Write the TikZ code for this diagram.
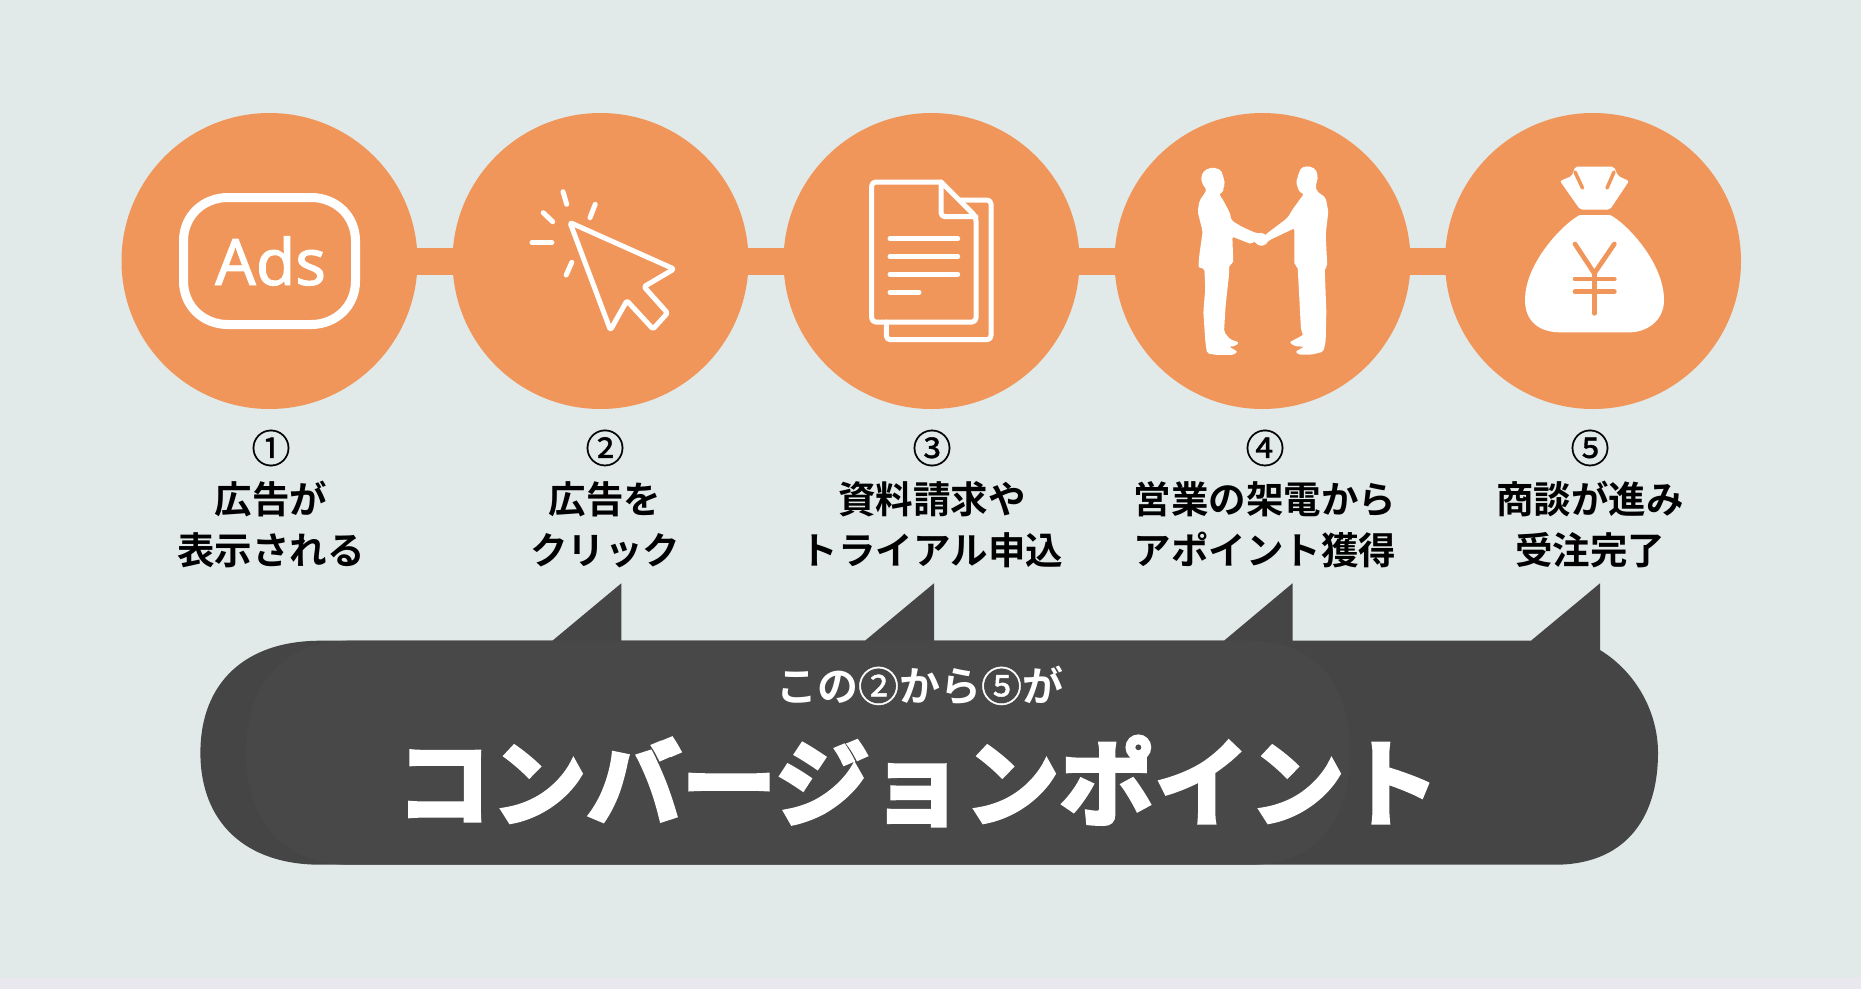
\documentclass[tikz,border=0pt]{standalone}
\usepackage{fontspec}
\newfontfamily\jpfont{Noto Sans CJK JP Bold}
\newfontfamily\subfont[FakeBold=1]{Noto Sans CJK JP}
\newfontfamily\titlefont[FakeBold=4]{Noto Sans CJK JP Bold}
\newfontfamily\adsfont[FakeBold=1.5]{Noto Sans}
\newcommand{\circnum}[1]{{\subfont\fontsize{39}{39}\selectfont #1}}
\definecolor{bgcol}{HTML}{E1EAE8}
\definecolor{stripcol}{HTML}{E8E8EE}
\definecolor{discol}{HTML}{F1965B}
\definecolor{darkcol}{HTML}{454545}
\definecolor{innercol}{HTML}{484848}
\begin{document}
\begin{tikzpicture}[x=1pt,y=-1pt,
disc/.style={circle,fill=discol,minimum size=296pt,inner sep=0pt},
bar/.style={draw=discol,line width=27pt,shorten >=-2pt,shorten <=-2pt},
iconline/.style={draw=white,line width=5pt,line cap=round,line join=round},
yenline/.style={draw=discol,line width=4.7pt,line cap=round,line join=round},
steptext/.style={font=\jpfont\fontsize{37.5}{51}\selectfont,align=center,text=black}]
\useasboundingbox (0,0) rectangle (1861,989);
\fill[bgcol] (0,0) rectangle (1861,989);
\fill[stripcol] (0,978) rectangle (1861,989);
\foreach \i/\x in {1/269.5,2/600.5,3/931.5,4/1262.5,5/1593} \draw (\x,261) node[disc](c\i){};
\foreach \i/\j in {1/2,2/3,3/4,4/5} \draw[bar] (c\i) -- (c\j);
\draw[draw=white,line width=9pt] (183.5,241) .. controls (183.5,216) and (203,197.5) .. (228,197.5) -- (311,197.5) .. controls (336,197.5) and (355.5,216) .. (355.5,241) -- (355.5,281) .. controls (355.5,306) and (336,324.5) .. (311,324.5) -- (228,324.5) .. controls (203,324.5) and (183.5,306) .. (183.5,281) -- cycle;
\draw (270.5,261) node[text=white,font=\adsfont\fontsize{64}{64}\selectfont](ads){Ads};
\draw[iconline,rounded corners=1.5pt] (570,222.5) -- (674,269) -- (644,286.7) -- (667.5,313) -- (653,329) -- (626.9,300.7) -- (610.4,330) -- cycle;
\draw[iconline] (563,191.7) -- (566.7,204.3);
\draw[iconline] (595.2,204.3) -- (590,217.7);
\draw[iconline] (543.2,212.7) -- (552.7,221.7);
\draw[iconline] (532,242.7) -- (551.9,242.7);
\draw[iconline] (571.8,262.3) -- (566.2,275);
\draw[iconline,rounded corners=4pt] (941,182) -- (871.7,182) -- (871.7,322) -- (976,322) -- (976,216.7) -- (941,182);
\draw[iconline,rounded corners=4pt] (941,182) -- (941,216.7) -- (976,216.7);
\draw[iconline,rounded corners=4pt] (960,200) -- (991,200) -- (991,339.7) -- (886.3,339.7) -- (886.3,322);
\foreach \y/\e in {238.7/957.7,256.7/957.7,274.3/957.7,292.3/919} \draw[iconline] (890,\y) -- (\e,\y);
\begin{scope}[shift={(1180,155)},x=0.3333pt,y=-0.3333pt]
\fill[white,rounded corners=2pt] (80,105) -- (66,85) -- (63,65) -- (73,46) -- (97,37) -- (122,44) -- (130,65) -- (135,88) -- (130,95) -- (130,112) -- (117,116) -- (132,140) -- (150,175) -- (154,196) -- (185,215) -- (225,233) -- (240,236) -- (250,232) -- (262,250) -- (255,272) -- (235,272) -- (222,258) -- (215,268) -- (157,245) -- (160,325) -- (147,330) -- (147,360) -- (137,450) -- (132,530) -- (150,553) -- (177,562) -- (167,573) -- (147,575) -- (173,590) -- (160,600) -- (110,600) -- (81,595) -- (76,560) -- (70,470) -- (76,400) -- (73,340) -- (55,338) -- (58,300) -- (68,230) -- (53,170) -- (58,138) -- cycle;
\fill[white,rounded corners=2pt] (372,116) -- (358,112) -- (353,95) -- (348,85) -- (353,65) -- (363,38) -- (385,33) -- (407,42) -- (414,65) -- (407,95) -- (410,108) -- (437,128) -- (445,170) -- (442,195) -- (437,240) -- (442,335) -- (434,338) -- (439,470) -- (437,560) -- (430,590) -- (395,599) -- (355,599) -- (346,590) -- (373,575) -- (345,574) -- (328,562) -- (345,553) -- (370,540) -- (363,525) -- (353,335) -- (343,330) -- (343,220) -- (265,257) -- (255,272) -- (245,250) -- (260,236) -- (300,206) -- (323,188) -- (338,163) -- cycle;
\end{scope}
\fill[white] (1580,215) -- (1610,215) .. controls (1625,222) and (1664,262) .. (1664,300) .. controls (1664,322) and (1645,332.3) .. (1630,332.3) -- (1560,332.3) .. controls (1540,332.3) and (1525,322) .. (1525,300) .. controls (1525,262) and (1565,222) .. (1580,215) -- cycle;
\fill[white,rounded corners=2pt] (1560,181) -- (1572,176) -- (1575,166.7) -- (1614,166.7) -- (1618,176) -- (1629,181) -- (1610,209.5) -- (1580,209.5) -- cycle;
\draw[draw=discol,line width=3.5pt,line cap=round] (1575,172) -- (1582.5,188);
\draw[draw=discol,line width=3.5pt,line cap=round] (1614,172) -- (1607,188);
\draw[yenline] (1575,244) -- (1594.3,273.3) -- (1614.3,244);
\draw[yenline] (1594.3,273.3) -- (1594.3,313.3);
\draw[yenline] (1575,279) -- (1614.3,279);
\draw[yenline] (1575,291.7) -- (1614.3,291.7);
\foreach \x/\t in {271/{\circnum{①}\\広告が\\表示される},605/{\circnum{②}\\広告を\\クリック},932/{\circnum{③}\\資料請求や\\トライアル申込},1265/{\circnum{④}\\営業の架電から\\アポイント獲得},1590/{\circnum{⑤}\\商談が進み\\受注完了}} \draw (\x,499) node[steptext]{\t};
\fill[darkcol] (200.4,752.7) .. controls (200.4,683) and (245,640.7) .. (320.4,640.7) -- (552.4,640.7) -- (621.3,583.3) -- (621.3,640.7) -- (865,640.7) -- (934,583.3) -- (934,640.7) -- (1224,640.7) -- (1292.5,583.3) -- (1292.5,640.7) -- (1531,640.7) -- (1600,583.3) -- (1600,650) .. controls (1636,672) and (1658,712) .. (1658,752.7) .. controls (1658,822) and (1622,864.7) .. (1555,864.7) -- (320.4,864.7) .. controls (245,864.7) and (200.4,822) .. (200.4,752.7) -- cycle;
\fill[innercol] (246,752.7) .. controls (246,683) and (285,640.7) .. (350,640.7) -- (1250,640.7) .. controls (1315,640.7) and (1350,683) .. (1350,752.7) .. controls (1350,822) and (1315,864.7) .. (1250,864.7) -- (350,864.7) .. controls (285,864.7) and (246,822) .. (246,752.7) -- cycle;
\draw (919.5,685.5) node[text=white,font=\jpfont\fontsize{41}{41}\selectfont](sub){この{\subfont ②}から{\subfont ⑤}が};
\draw (918,781) node[text=white,font=\titlefont\fontsize{95}{95}\selectfont](title){コンバージョンポイント};
\end{tikzpicture}
\end{document}
